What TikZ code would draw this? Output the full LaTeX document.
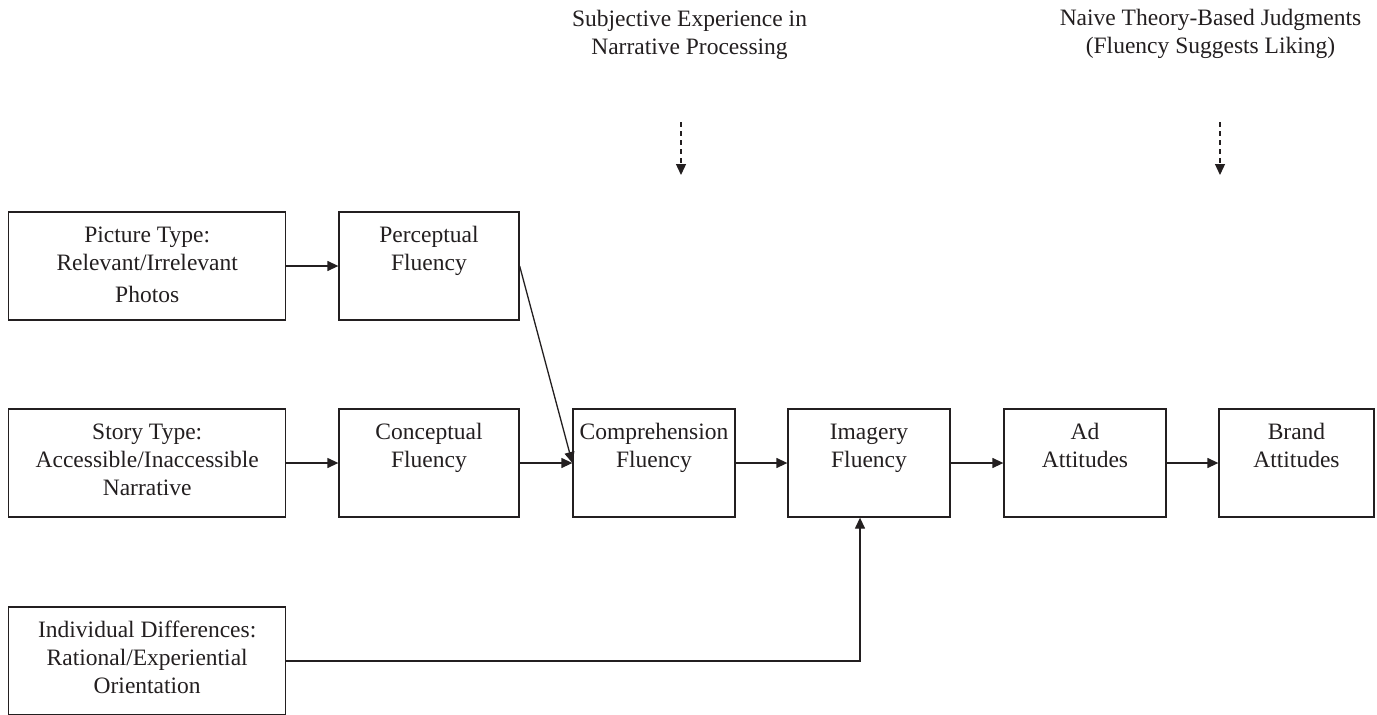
\documentclass[tikz,border=0pt]{standalone}
\usepackage{fontspec}
\setmainfont{Liberation Serif}
\usetikzlibrary{arrows.meta,calc}
\definecolor{ink}{HTML}{231F20}
\newcommand{\bt}[2]{\parbox[c][108pt][t]{#1}{\centering\rule{0pt}{30pt}#2}}
\tikzset{
  box/.style={draw=ink, line width=1.3pt, inner sep=0pt, text=ink},
  title/.style={inner sep=0pt, anchor=north, align=center, text=ink},
  arr/.style={draw=ink, line width=1.3pt, -{Triangle[length=11pt,width=10pt]}},
  darr/.style={draw=ink, line width=1.3pt, dash pattern=on 5pt off 4pt, -{Triangle[length=11pt,width=10pt]}},
}
\begin{document}
\begin{tikzpicture}[x=1pt,y=-1pt]
\fontsize{23.5}{28}\selectfont
\useasboundingbox (0,0) rectangle (1377,715);
\fill[white] (0,0) rectangle (1377,715);

% titles
\node[title] (t1) at (689.5,0) {\rule{0pt}{26pt}Subjective Experience in\\Narrative Processing};
\node[title] (t2) at (1210.5,0) {\rule{0pt}{25pt}Naive Theory-Based Judgments\\(Fluency Suggests Liking)};
\coordinate (d1s) at (681,122);
\coordinate (d1e) at (681,175);
\coordinate (d2s) at (1220,122);
\coordinate (d2e) at (1220,175);
\draw[darr] (d1s) -- (d1e);
\draw[darr] (d2s) -- (d2e);

% boxes
\node[box] (pic) at (147.2,266) {\bt{277pt}{Picture Type:\\Relevant/Irrelevant\\[4pt]Photos}};
\node[box] (perc) at (429,266) {\bt{180pt}{Perceptual\\Fluency}};
\node[box] (story) at (147.2,463) {\bt{277pt}{Story Type:\\Accessible/Inaccessible\\Narrative}};
\node[box] (conc) at (429,463) {\bt{180pt}{Conceptual\\Fluency}};
\node[box] (comp) at (654,463) {\bt{162pt}{Comprehension\\Fluency}};
\node[box] (imag) at (869,463) {\bt{162pt}{Imagery\\Fluency}};
\node[box] (ad) at (1085,463) {\bt{162pt}{Ad\\Attitudes}};
\node[box] (brand) at (1296.5,463) {\bt{155pt}{Brand\\Attitudes}};
\node[box] (indiv) at (147.2,661) {\bt{277pt}{Individual Differences:\\Rational/Experiential\\Orientation}};

% connectors
\draw[arr] (pic.east) -- (perc.west);
\draw[arr] (story.east) -- (conc.west);
\draw[arr] (perc.east) -- (comp.west);
\draw[arr] (conc.east) -- (comp.west);
\draw[arr] (comp.east) -- (imag.west);
\draw[arr] (imag.east) -- (ad.west);
\draw[arr] (ad.east) -- (brand.west);
\draw[arr] (indiv.east) -| ([xshift=-9pt]imag.south);
\end{tikzpicture}
\end{document}
